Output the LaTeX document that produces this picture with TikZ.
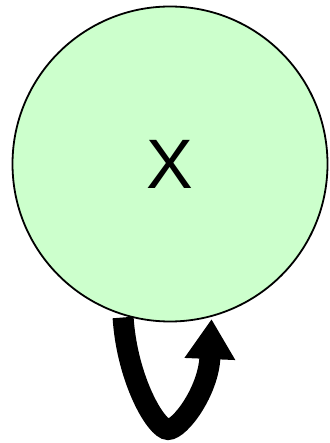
\documentclass[tikz,border=0pt]{standalone}
\usepackage{fontspec}
\setsansfont{Liberation Sans}
\usepackage{tikz}
\usetikzlibrary{arrows.meta}
\definecolor{statefill}{HTML}{CCFFCC}
\tikzset{
  state-node/.style={circle, draw=black, fill=statefill, line width=1.8pt,
    minimum size=315pt, inner sep=0pt, outer sep=3pt,
    font=\sffamily\fontsize{70}{70}\selectfont},
  self-loop/.style={line width=21pt, -{Triangle[length=40pt, width=48pt]}}
}

\begin{document}
\begin{tikzpicture}[x=1pt, y=-1pt]
  \useasboundingbox (0,0) rectangle (329,443);

  % State X
  \node[state-node] (x) at (170,164) {X};

  % Self loop below the state, pointed at the bottom
  \draw[self-loop] (x.-107) .. controls +(4,62) and +(-12,0) .. ++(45,112)
    .. controls +(12,0) and +(-3,72) .. (x.-75);
\end{tikzpicture}
\end{document}
